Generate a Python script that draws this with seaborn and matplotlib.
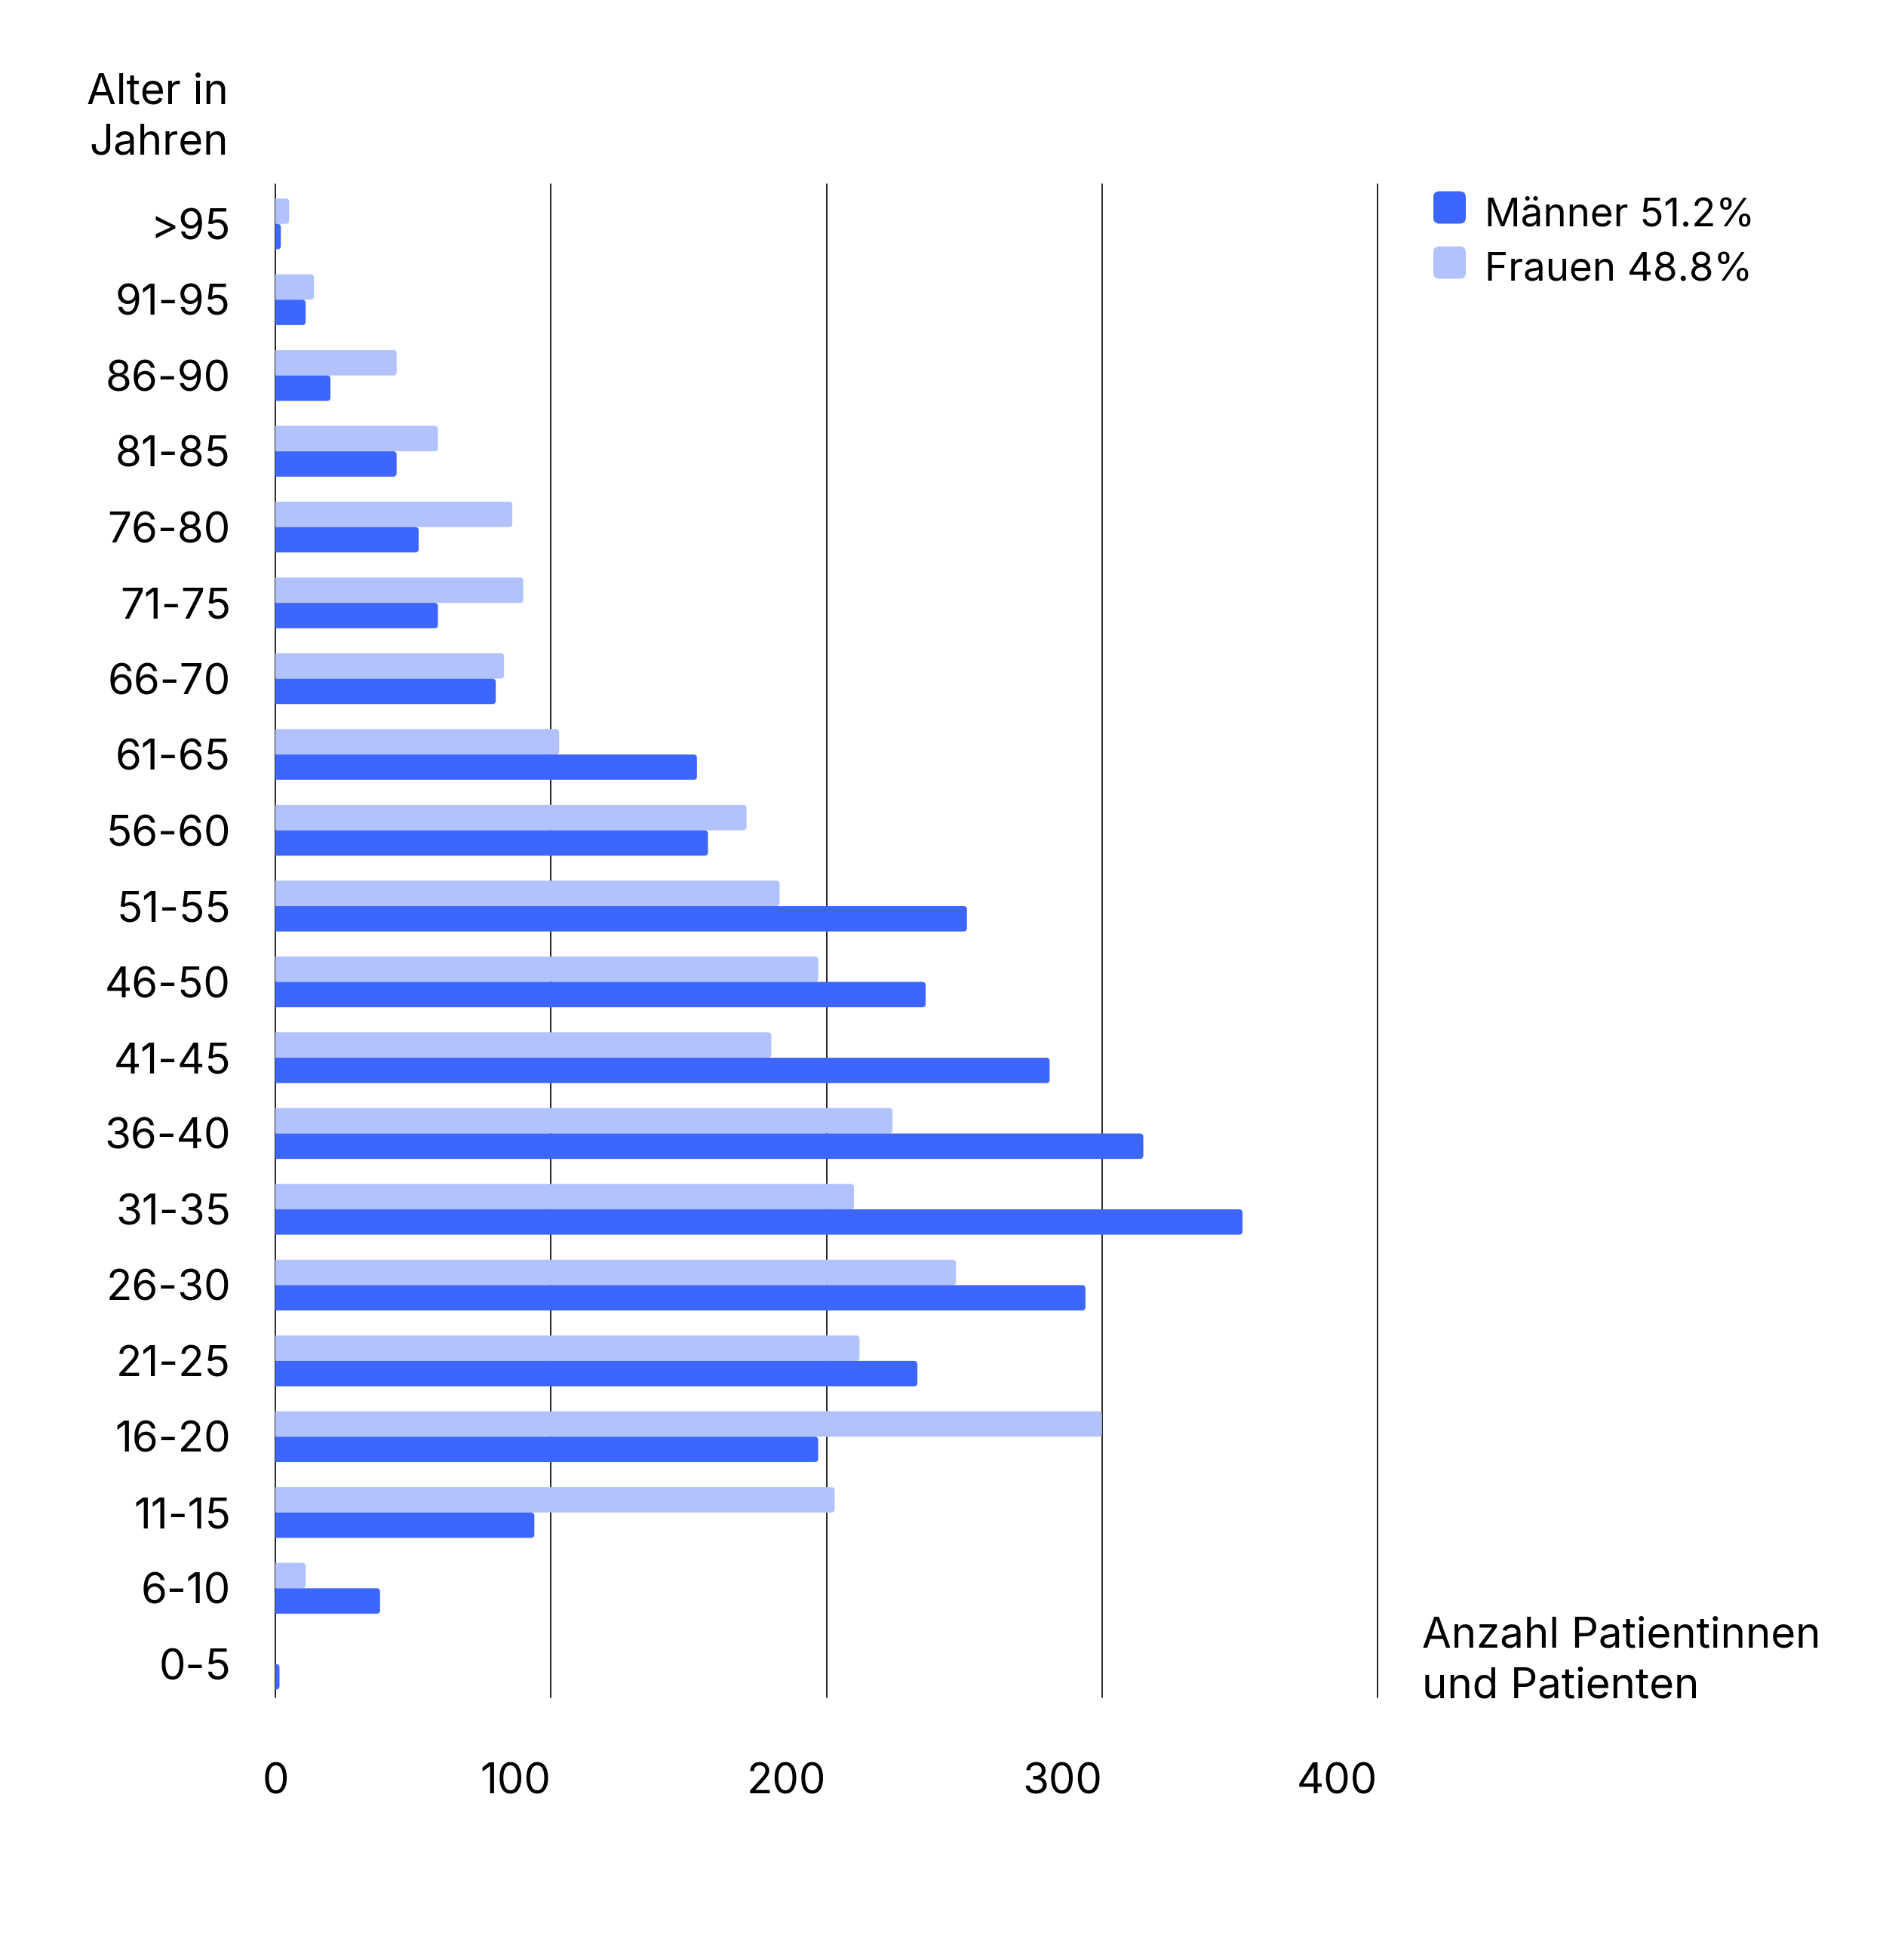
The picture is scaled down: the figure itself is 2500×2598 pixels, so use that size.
import matplotlib
matplotlib.use("Agg")
import matplotlib.pyplot as plt
import seaborn as sns
import pandas as pd
from matplotlib.patches import FancyBboxPatch

# ---------------- data ----------------
ages = [">95", "91-95", "86-90", "81-85", "76-80", "71-75", "66-70", "61-65",
        "56-60", "51-55", "46-50", "41-45", "36-40", "31-35", "26-30", "21-25",
        "16-20", "11-15", "6-10", "0-5"]
maenner = [2, 11, 20, 44, 52, 59, 80, 153, 157, 251, 236, 281, 315, 351, 294,
           233, 197, 94, 38, 1.5]
frauen = [5, 14, 44, 59, 86, 90, 83, 103, 171, 183, 197, 180, 224, 210, 247,
          212, 300, 203, 11, 0]
series_order = ["Frauen", "Männer"]
legend_series = ["Männer", "Frauen"]
legend_labels = ["Männer 51.2%", "Frauen 48.8%"]
x_ticks = [0, 100, 200, 300, 400]
x_ticklabels = ["0", "100", "200", "300", "400"]
y_title = "Alter in\nJahren"
x_title = "Anzahl Patientinnen\nund Patienten"

DARK = "#3D66FF"
LIGHT = "#B1C2FD"
palette = {"Männer": DARK, "Frauen": LIGHT}

sns.set_theme(style="white")
plt.rcParams['font.family'] = ['Inter', 'DejaVu Sans']
FS_TICK = 40.5
FS_TITLE = 40.5
FS_LEG = 38

W, H = 2500, 2598
fig = plt.figure(figsize=(W / 100, H / 100), dpi=100)
fig.patch.set_facecolor("white")

ax_left, ax_right, ax_top, ax_bottom = 365, 1826, 243.5, 2250
ax = fig.add_axes([ax_left / W, 1 - ax_bottom / H,
                   (ax_right - ax_left) / W, (ax_bottom - ax_top) / H])

df = pd.DataFrame({
    "Alter": ages * 2,
    "Anzahl": frauen + maenner,
    "Geschlecht": ["Frauen"] * len(ages) + ["Männer"] * len(ages),
})

sns.barplot(data=df, y="Alter", x="Anzahl", hue="Geschlecht", order=ages,
            hue_order=series_order, palette=palette, width=0.67, orient="h",
            saturation=1, errorbar=None, legend=False, ax=ax)

ylim = (19.44, -0.53)
ax.set_xlim(0, 400)
ax.set_ylim(*ylim)

# rounded bar ends (replace seaborn rectangles by rounded boxes of same geometry)
px_per_x = (ax_right - ax_left) / 400
px_per_y = (ax_bottom - ax_top) / (ylim[0] - ylim[1])
r_px = 4.5
rx = r_px / px_per_x
aspect = (r_px / px_per_y) / rx
for p in list(ax.patches):
    x0, y0, w, h = p.get_x(), p.get_y(), p.get_width(), p.get_height()
    fc = p.get_facecolor()
    p.remove()
    if w <= 0:
        continue
    r = min(rx, (w + rx) / 2)
    bar = FancyBboxPatch((x0 - rx, y0), w + rx, h,
                         boxstyle=f"round,pad=0,rounding_size={r}",
                         mutation_aspect=aspect, facecolor=fc,
                         edgecolor="none", linewidth=0, zorder=2)
    ax.add_patch(bar)

for t in x_ticks:
    ax.axvline(t, color="black", lw=1.2, zorder=1, clip_on=False)

for s in ax.spines.values():
    s.set_visible(False)
ax.set_xlabel("")
ax.set_ylabel("")
ax.grid(False)

ax.set_xticks(x_ticks)
ax.set_xticklabels(x_ticklabels)
ax.tick_params(axis="x", length=0, pad=62, labelsize=FS_TICK, colors="black")
ax.tick_params(axis="y", length=0, pad=42.5, labelsize=FS_TICK, colors="black")
for i, lab in enumerate(ax.get_xticklabels()):
    lab.set_ha("center" if i == 0 else "right")

# axis titles
fig.text(303 / W, 1 - 156 / H, y_title, ha="right", va="center",
         multialignment="right", fontsize=FS_TITLE, linespacing=1.35, color="black")
fig.text(1885 / W, 1 - 2202 / H, x_title, ha="left", va="center",
         multialignment="left", fontsize=FS_TITLE, linespacing=1.35, color="black")

# legend with rounded squares
sq = 0.43
leg_y_px = [275, 348]
for name, lab, ypx in zip(legend_series, legend_labels, leg_y_px):
    box = FancyBboxPatch((19.0, (H - ypx) / 100 - sq / 2), sq, sq,
                         boxstyle="round,pad=0,rounding_size=0.08",
                         facecolor=palette[name], edgecolor="none",
                         transform=fig.dpi_scale_trans)
    fig.add_artist(box)
    fig.text(1968 / W, 1 - (ypx + 11) / H, lab, ha="left", va="center",
             fontsize=FS_LEG, color="black")

fig.savefig("out.png", dpi=100, facecolor="white")
